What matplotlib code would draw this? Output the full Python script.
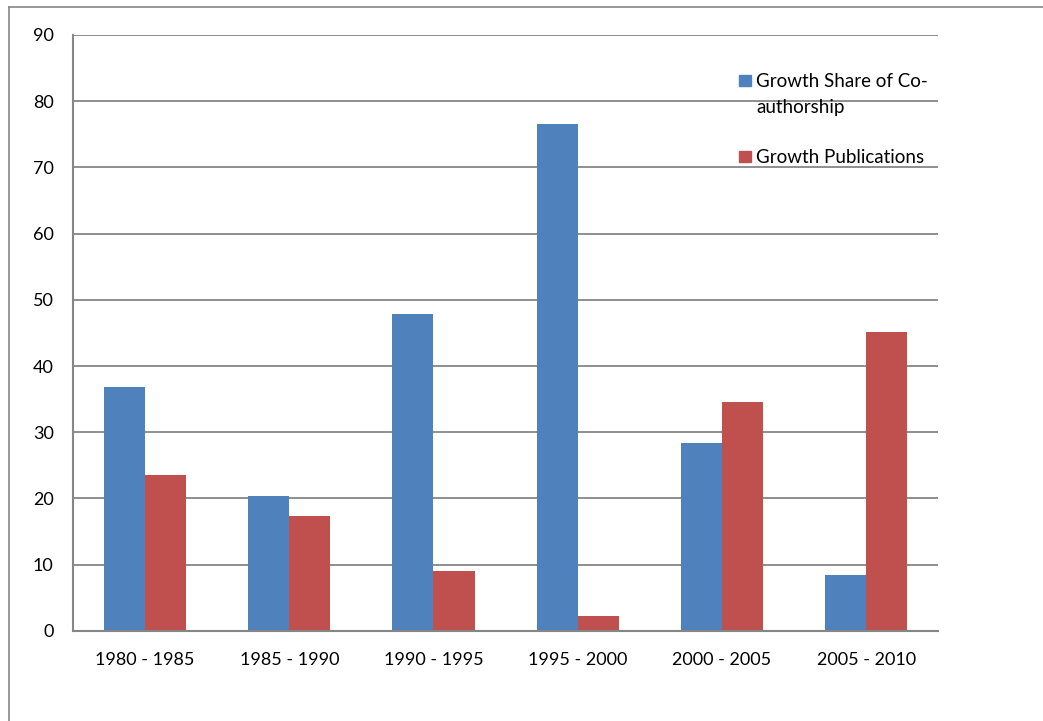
import matplotlib.pyplot as plt
import numpy as np
from matplotlib.patches import Rectangle
from matplotlib.lines import Line2D

periods = ['1980 - 1985', '1985 - 1990', '1990 - 1995', '1995 - 2000', '2000 - 2005', '2005 - 2010']
coauthor = [36.8, 20.4, 47.8, 76.6, 28.3, 8.5]
publications = [23.6, 17.3, 9.1, 2.2, 34.5, 45.1]
labels = ['Growth Share of Co-\nauthorship', 'Growth Publications']

blue = '#4F81BD'
red = '#C0504D'
grey = '#868686'

plt.rcParams['font.family'] = ['Lato', 'DejaVu Sans']

fig = plt.figure(figsize=(10.43, 7.21), dpi=100)
ax = fig.add_axes([0.070, 0.125, 0.8295, 0.8265])

x = np.arange(len(periods))
w = 0.285
ax.bar(x - w / 2, coauthor, w, color=blue, zorder=3)
ax.bar(x + w / 2, publications, w, color=red, zorder=3)

ax.set_xlim(-0.5, len(periods) - 0.5)
ax.set_ylim(0, 90)
ax.set_yticks(range(0, 91, 10))
ax.set_xticks(x)
ax.set_xticklabels(periods)
ax.tick_params(length=0, labelsize=13, colors='black')
ax.tick_params(axis='y', pad=14)
ax.tick_params(axis='x', pad=15)
ax.grid(axis='y', color=grey, linewidth=1.3, zorder=0)
for s in ['top', 'right']:
    ax.spines[s].set_visible(False)
for s in ['left', 'bottom']:
    ax.spines[s].set_color(grey)
    ax.spines[s].set_linewidth(1.5)
    ax.spines[s].set_zorder(4)

# legend drawn by hand to match the layout
for yy, col, lab in [(0.923, blue, labels[0]), (0.795, red, labels[1])]:
    ax.add_patch(Rectangle((0.770, yy - 0.009), 0.0135, 0.019, transform=ax.transAxes,
                           color=col, clip_on=False, zorder=5))
    ax.text(0.790, yy + 0.013, lab, transform=ax.transAxes, va='top', ha='left',
            fontsize=13.5, linespacing=1.6, zorder=5)

# outer frame (left and top edges)
fig.add_artist(Line2D([9 / 1043, 9 / 1043], [0, 1 - 7 / 721], color=grey, linewidth=1.2))
fig.add_artist(Line2D([9 / 1043, 1], [1 - 7 / 721, 1 - 7 / 721], color=grey, linewidth=1.2))

fig.savefig('out.png', dpi=100)
